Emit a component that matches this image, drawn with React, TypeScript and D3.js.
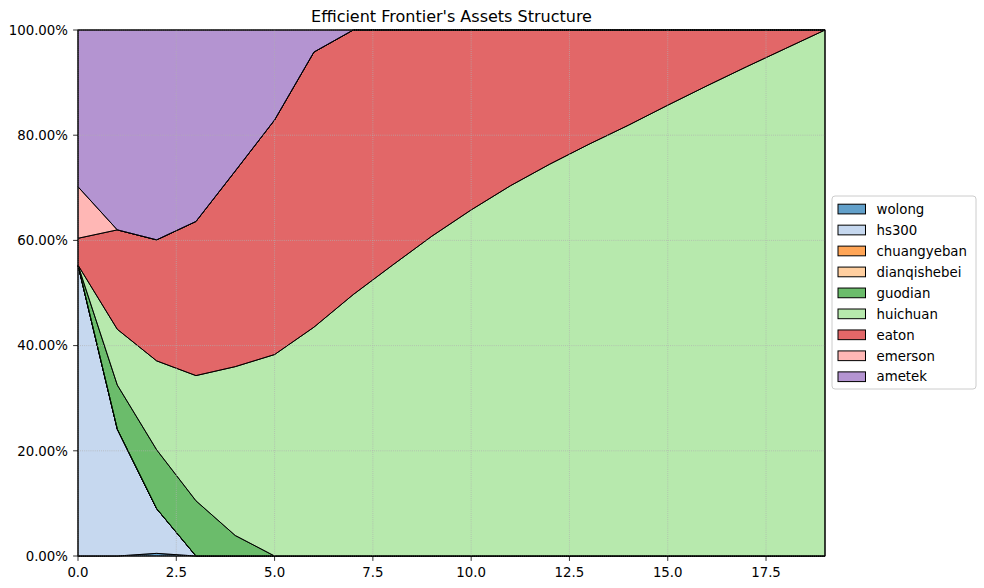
import React from "react";
import * as d3 from "d3";

const xs = [0, 1, 2, 3, 4, 5, 6, 7, 8, 9, 10, 11, 12, 13, 14, 15, 16, 17, 18, 19];
const keys = ["wolong", "hs300", "chuangyeban", "dianqishebei", "guodian", "huichuan", "eaton", "emerson", "ametek"];
const wolong = [0, 0, 0.5, 0, 0, 0, 0, 0, 0, 0, 0, 0, 0, 0, 0, 0, 0, 0, 0, 0];
const hs300 = [55.3, 24.1, 8.5, 0, 0, 0, 0, 0, 0, 0, 0, 0, 0, 0, 0, 0, 0, 0, 0, 0];
const chuangyeban = [0, 0, 0, 0, 0, 0, 0, 0, 0, 0, 0, 0, 0, 0, 0, 0, 0, 0, 0, 0];
const dianqishebei = [0, 0, 0, 0, 0, 0, 0, 0, 0, 0, 0, 0, 0, 0, 0, 0, 0, 0, 0, 0];
const guodian = [0, 8.4, 11.2, 10.5, 3.9, 0, 0, 0, 0, 0, 0, 0, 0, 0, 0, 0, 0, 0, 0, 0];
const huichuan = [0, 10.6, 16.9, 23.8, 32.1, 38.3, 43.5, 49.7, 55.3, 60.8, 65.8, 70.4, 74.5, 78.3, 81.9, 85.7, 89.4, 93.0, 96.5, 100];
const eaton = [5.1, 18.9, 23.0, 29.3, 37.2, 44.6, 52.3, 50.3, 44.7, 39.2, 34.2, 29.6, 25.5, 21.7, 18.1, 14.3, 10.6, 7.0, 3.5, 0];
const emerson = [9.8, 0, 0, 0, 0, 0, 0, 0, 0, 0, 0, 0, 0, 0, 0, 0, 0, 0, 0, 0];
const ametek = [29.8, 38.0, 39.9, 36.4, 26.8, 17.1, 4.2, 0, 0, 0, 0, 0, 0, 0, 0, 0, 0, 0, 0, 0];
const colors = ["#1f77b4", "#aec7e8", "#ff7f0e", "#ffbb78", "#2ca02c", "#98df8a", "#d62728", "#ff9896", "#9467bd"];
const xTicks = [0, 2.5, 5, 7.5, 10, 12.5, 15, 17.5];
const yTicks = [0, 20, 40, 60, 80, 100];
const title = "Efficient Frontier's Assets Structure";

const seriesArrays = [wolong, hs300, chuangyeban, dianqishebei, guodian, huichuan, eaton, emerson, ametek];

export default function App() {
  const W = 984, H = 588;
  const L = 78, R = 825, T = 30, B = 556;
  const x = d3.scaleLinear().domain([0, 19]).range([L, R]);
  const y = d3.scaleLinear().domain([0, 100]).range([B, T]);
  const rows = xs.map((xv, i) => {
    const o: any = { x: xv };
    keys.forEach((k, j) => (o[k] = seriesArrays[j][i]));
    return o;
  });
  const stacked = d3.stack().keys(keys)(rows as any);
  const area = d3
    .area<any>()
    .x((d) => x(d.data.x))
    .y0((d) => y(d[0]))
    .y1((d) => y(d[1]));
  const font = "DejaVu Sans, sans-serif";
  const legX = 832, legY = 196, legW = 144, legH = 193;
  const rowH = 20.96;
  return (
    <svg width={W} height={H} style={{ position: "absolute", left: 0, top: 0 }} fontFamily={font}>
      <rect width={W} height={H} fill="#fff" />
      {stacked.map((s, i) => (
        <path key={keys[i]} d={area(s as any) || ""} fill={colors[i]} fillOpacity={0.7} stroke="#000" strokeWidth={1} strokeLinejoin="round" />
      ))}
      {xTicks.map((t) => (
        <line key={"gx" + t} x1={x(t)} x2={x(t)} y1={T} y2={B} stroke="#b0b0b0" strokeWidth={0.8} strokeDasharray="0.8,1.3" />
      ))}
      {yTicks.map((t) => (
        <line key={"gy" + t} x1={L} x2={R} y1={y(t)} y2={y(t)} stroke="#b0b0b0" strokeWidth={0.8} strokeDasharray="0.8,1.3" />
      ))}
      <rect x={L} y={T} width={R - L} height={B - T} fill="none" stroke="#000" strokeWidth={1} />
      {xTicks.map((t) => (
        <g key={"xt" + t}>
          <line x1={x(t)} x2={x(t)} y1={B} y2={B + 4.9} stroke="#000" strokeWidth={0.8} />
          <text x={x(t)} y={B + 21} textAnchor="middle" fontSize={13.33} fill="#000">
            {t.toFixed(1)}
          </text>
        </g>
      ))}
      {yTicks.map((t) => (
        <g key={"yt" + t}>
          <line x1={L - 4.9} x2={L} y1={y(t)} y2={y(t)} stroke="#000" strokeWidth={0.8} />
          <text x={L - 10} y={y(t) + 4.8} textAnchor="end" fontSize={13.33} fill="#000">
            {t.toFixed(2) + "%"}
          </text>
        </g>
      ))}
      <text x={(L + R) / 2} y={T - 8} textAnchor="middle" fontSize={16} fill="#000">
        {title}
      </text>
      <rect x={legX} y={legY} width={legW} height={legH} rx={3} fill="#fff" fillOpacity={0.8} stroke="#cccccc" strokeWidth={1} />
      {keys.map((k, i) => {
        const cy = legY + 13 + i * rowH;
        return (
          <g key={"lg" + k}>
            <rect x={838} y={cy - 4.8} width={27.5} height={9.7} fill={colors[i]} fillOpacity={0.7} stroke="#000" strokeWidth={1} />
            <text x={876.5} y={cy + 4.8} fontSize={13.33} fill="#000">
              {k}
            </text>
          </g>
        );
      })}
    </svg>
  );
}
